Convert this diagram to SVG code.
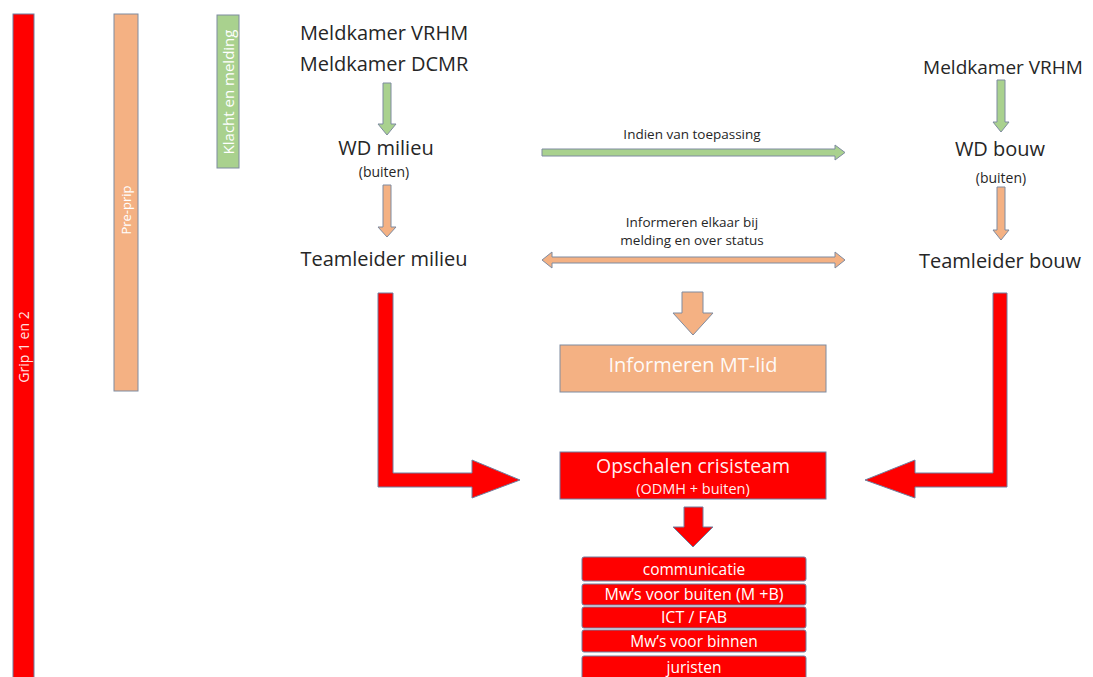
<svg xmlns="http://www.w3.org/2000/svg" width="1093" height="677" viewBox="0 0 1093 677">
<style>
.t{font-family:"Open Sans","Liberation Sans",sans-serif;fill:#262626;text-anchor:middle}
.w{font-family:"Open Sans","Liberation Sans",sans-serif;fill:#ffffff;text-anchor:middle}
.red{fill:#ff0000;stroke:#6f7fa0;stroke-width:1}
.org{fill:#f4b183;stroke:#7f8ba0;stroke-width:1}
.grn{fill:#a9d18e;stroke:#7f8ba0;stroke-width:1}
</style>
<rect width="1093" height="677" fill="#ffffff"/>
<g id="bar-grip">
<rect class="red" x="13" y="14" width="21" height="670"/>
<text class="w" transform="translate(28.5,347) rotate(-90)" font-size="14" fill-opacity="0.9">Grip 1 en 2</text>
</g>
<g id="bar-preprip">
<rect class="org" x="114" y="14" width="24" height="377"/>
<text class="w" transform="translate(131,210) rotate(-90)" font-size="13">Pre-prip</text>
</g>
<g id="bar-klacht">
<rect class="grn" x="217" y="15" width="22" height="153"/>
<text class="w" transform="translate(233.5,92) rotate(-90)" font-size="15">Klacht en melding</text>
</g>
<g id="meldkamer-left">
<text class="t" x="384" y="40" font-size="20">Meldkamer VRHM</text>
<text class="t" x="384" y="71" font-size="20">Meldkamer DCMR</text>
</g>
<g id="wd-milieu">
<text class="t" x="386" y="155" font-size="20">WD milieu</text>
<text class="t" x="384" y="177" font-size="14">(buiten)</text>
</g>
<g id="teamleider-milieu">
<text class="t" x="384" y="266" font-size="20">Teamleider milieu</text>
</g>
<g id="meldkamer-right">
<text class="t" x="1003" y="74" font-size="19">Meldkamer VRHM</text>
</g>
<g id="wd-bouw">
<text class="t" x="1000" y="156" font-size="20">WD bouw</text>
<text class="t" x="1001" y="183" font-size="14">(buiten)</text>
</g>
<g id="teamleider-bouw">
<text class="t" x="1000" y="268" font-size="20">Teamleider bouw</text>
</g>
<g id="informeren-mt">
<rect class="org" x="560" y="345" width="266" height="47"/>
<text class="w" x="693" y="372" font-size="20" fill-opacity="0.95">Informeren MT-lid</text>
</g>
<g id="opschalen">
<rect class="red" x="560" y="452" width="266" height="47"/>
<text class="w" x="693" y="473" font-size="19.5" fill-opacity="0.95">Opschalen crisisteam</text>
<text class="w" x="693" y="494" font-size="14.5" fill-opacity="0.95">(ODMH + buiten)</text>
</g>
<g id="list">
<rect class="red" x="582" y="557" width="224" height="24" rx="2"/>
<text class="w" x="694" y="575" font-size="15.5">communicatie</text>
<rect class="red" x="582" y="584" width="224" height="21" rx="2"/>
<text class="w" x="694" y="600" font-size="16">Mw’s voor buiten (M +B)</text>
<rect class="red" x="582" y="607" width="224" height="21" rx="2"/>
<text class="w" x="694" y="623" font-size="16">ICT / FAB</text>
<rect class="red" x="582" y="630" width="224" height="22" rx="2"/>
<text class="w" x="694" y="647" font-size="15.5">Mw’s voor binnen</text>
<rect class="red" x="582" y="656" width="224" height="26" rx="2"/>
<text class="w" x="694" y="673" font-size="15.5">juristen</text>
</g>
<g id="connectors">
<polygon class="grn" points="383,83 391,83 391,124 396,124 387,135 378,124 383,124"/>
<polygon class="org" points="383,185 391,185 391,227 396,227 387,237 378,227 383,227"/>
<polygon class="grn" points="997,80 1005,80 1005,122 1009,122 1001,132 993,122 997,122"/>
<polygon class="org" points="997,187 1005,187 1005,230 1009,230 1001,240 993,230 997,230"/>
<polygon class="grn" points="542,149 835,149 835,145 845,152.5 835,160 835,156 542,156"/>
<text class="t" x="692" y="139" font-size="13.5">Indien van toepassing</text>
<polygon class="org" points="542,260 552,252 552,257 835,257 835,252 845,260 835,268 835,263 552,263 552,268"/>
<text class="t" x="692" y="227" font-size="13.5">Informeren elkaar bij</text>
<text class="t" x="692" y="245" font-size="13.5">melding en over status</text>
<polygon class="org" points="682,292 703,292 703,313 713,313 693,335 673,313 682,313"/>
<polygon class="red" points="378,293 393,293 393,473 472,473 472,460 520,480 472,498 472,487 378,487"/>
<polygon class="red" points="1007,293 993,293 993,473 915,473 915,460 865,480 915,498 915,487 1007,487"/>
<polygon class="red" points="684,507 703,507 703,527 713,527 693,547 673,527 684,527"/>
</g>
</svg>
